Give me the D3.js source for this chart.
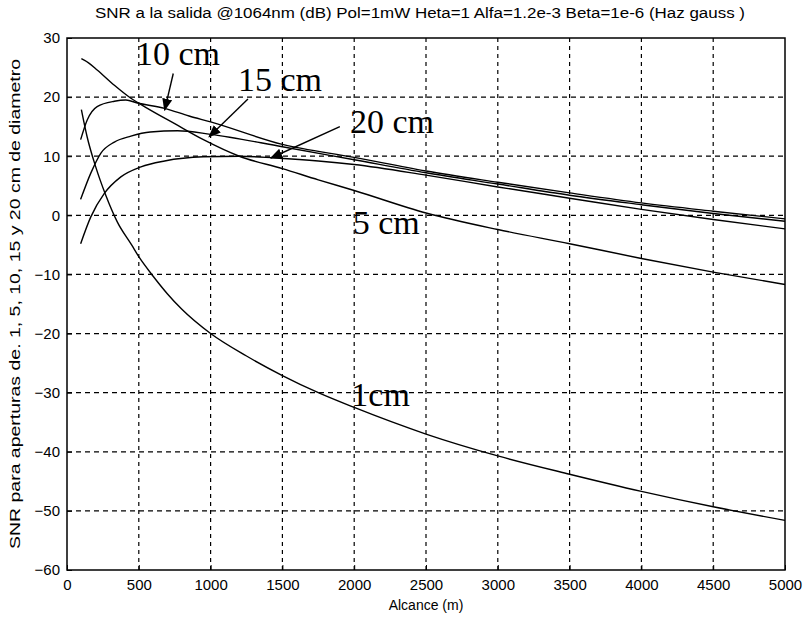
<!DOCTYPE html>
<html>
<head>
<meta charset="utf-8">
<script src="https://cdn.jsdelivr.net/npm/d3@7"></script>
<style>
  body { margin: 0; background: #fff; }
  svg { display: block; }
</style>
</head>
<body>
<div id="chart"></div>
<script>
// curves: [alcance (m), SNR (dB)]
var snr1cm = [[100,17.9],[140,13.3],[200,8.2],[270,3.4],[350,-1.1],[450,-5.0],[500,-7.0],[600,-10.3],[700,-13.3],[800,-15.9],[1000,-20.0],[1250,-23.8],[1500,-27.1],[1750,-30.0],[2000,-32.5],[2500,-37.0],[3000,-40.7],[3500,-43.8],[4000,-46.7],[4500,-49.3],[5000,-51.6]];
var snr5cm = [[100,26.5],[150,25.8],[210,24.6],[330,22.0],[445,19.8],[560,18.1],[750,15.5],[950,12.8],[1200,10.0],[1500,7.9],[1750,6.0],[2000,4.2],[2500,0.4],[3000,-2.4],[3500,-4.8],[4000,-7.3],[4500,-9.6],[5000,-11.7]];
var snr10cm = [[95,12.8],[140,16.1],[210,18.4],[330,19.3],[410,19.5],[490,19.0],[680,18.1],[850,16.8],[1000,15.8],[1500,12.0],[2000,9.8],[2500,7.5],[3000,5.6],[3500,3.8],[4000,2.1],[4500,0.7],[5000,-0.6]];
var snr15cm = [[95,2.7],[165,7.1],[235,10.5],[330,12.4],[445,13.4],[580,14.1],[770,14.3],[1000,13.7],[1500,11.6],[2000,9.4],[2500,7.2],[3000,5.3],[3500,3.4],[4000,1.8],[4500,0.3],[5000,-1.0]];
var snr20cm = [[95,-4.8],[165,-0.3],[260,3.7],[375,6.5],[515,8.2],[680,9.2],[950,9.9],[1200,10.0],[1450,9.7],[1750,9.2],[2000,8.6],[2500,6.8],[3000,4.8],[3500,2.9],[4000,1.0],[4500,-0.7],[5000,-2.3]];

var xTicks = [0,500,1000,1500,2000,2500,3000,3500,4000,4500,5000];
var yTicks = [-60,-50,-40,-30,-20,-10,0,10,20,30];

// hand-written labels: [text, x (m), y (dB)] and arrows [from x,y, to x,y]
var labels = [["10 cm", 480, 25.5], ["15 cm", 1190, 21.0], ["20 cm", 1970, 14.0], ["5 cm", 1990, -3.2], ["1cm", 1980, -32.3]];
var arrows = [[740, 24.0, 680, 17.8], [1260, 19.7, 990, 13.3], [1900, 15.0, 1420, 9.7]];

var width = 810, height = 620;
var margin = {top: 38, right: 25, bottom: 50, left: 67};

var svg = d3.select("#chart").append("svg")
    .attr("width", width)
    .attr("height", height)
    .style("font-family", "'Liberation Sans', Arial, sans-serif");

var x = d3.scaleLinear().domain([0, 5000]).range([margin.left, width - margin.right]);
var y = d3.scaleLinear().domain([-60, 30]).range([height - margin.bottom, margin.top]);

// dashed grid
svg.append("g").selectAll("line.gx")
    .data(xTicks.slice(1, -1))
    .enter().append("line")
    .attr("x1", function(d) { return x(d); })
    .attr("x2", function(d) { return x(d); })
    .attr("y1", y(-60)).attr("y2", y(30))
    .attr("stroke", "#000").attr("stroke-width", 1.2)
    .attr("stroke-dasharray", "4,4");

svg.append("g").selectAll("line.gy")
    .data(yTicks.slice(1, -1))
    .enter().append("line")
    .attr("x1", x(0)).attr("x2", x(5000))
    .attr("y1", function(d) { return y(d); })
    .attr("y2", function(d) { return y(d); })
    .attr("stroke", "#000").attr("stroke-width", 1.2)
    .attr("stroke-dasharray", "5,4");

// axes
var xAxis = svg.append("g")
    .attr("transform", "translate(0," + y(-60) + ")")
    .call(d3.axisBottom(x).tickValues(xTicks).tickSize(-5).tickPadding(9).tickFormat(d3.format("d")));
var yAxis = svg.append("g")
    .attr("transform", "translate(" + x(0) + ",0)")
    .call(d3.axisLeft(y).tickValues(yTicks).tickSize(-5).tickPadding(7).tickFormat(d3.format("d")));

[xAxis, yAxis].forEach(function(a) {
  a.select(".domain").remove();
  a.selectAll("text").style("font-size", "15px").style("font-family", "'Liberation Sans', Arial, sans-serif").attr("fill", "#000");
  a.selectAll("line").attr("stroke", "#000");
});

svg.append("rect")
    .attr("x", x(0)).attr("y", y(30))
    .attr("width", x(5000) - x(0)).attr("height", y(-60) - y(30))
    .attr("fill", "none").attr("stroke", "#000").attr("stroke-width", 1.5);

// curves
var line = d3.line()
    .x(function(d) { return x(d[0]); })
    .y(function(d) { return y(d[1]); })
    .curve(d3.curveMonotoneX);

[snr1cm, snr5cm, snr10cm, snr15cm, snr20cm].forEach(function(s) {
  svg.append("path")
      .datum(s)
      .attr("d", line)
      .attr("fill", "none")
      .attr("stroke", "#000")
      .attr("stroke-width", 1.4);
});

// arrows
svg.append("defs").append("marker")
    .attr("id", "head")
    .attr("viewBox", "0 0 10 10")
    .attr("refX", 9).attr("refY", 5)
    .attr("markerWidth", 9).attr("markerHeight", 9)
    .attr("orient", "auto")
  .append("path")
    .attr("d", "M0,1 L10,5 L0,9 z")
    .attr("fill", "#000");

svg.append("g").selectAll("line")
    .data(arrows)
    .enter().append("line")
    .attr("x1", function(d) { return x(d[0]); })
    .attr("y1", function(d) { return y(d[1]); })
    .attr("x2", function(d) { return x(d[2]); })
    .attr("y2", function(d) { return y(d[3]); })
    .attr("stroke", "#000").attr("stroke-width", 1.4)
    .attr("marker-end", "url(#head)");

svg.append("g").selectAll("text")
    .data(labels)
    .enter().append("text")
    .attr("x", function(d) { return x(d[1]); })
    .attr("y", function(d) { return y(d[2]); })
    .attr("font-family", "'Liberation Serif', 'Times New Roman', serif")
    .attr("font-size", 34)
    .attr("fill", "#000")
    .text(function(d) { return d[0]; });

// title and axis labels
svg.append("text")
    .attr("x", 420).attr("y", 18)
    .attr("text-anchor", "middle")
    .attr("font-size", 14)
    .attr("textLength", 650)
    .attr("lengthAdjust", "spacingAndGlyphs")
    .text("SNR a la salida @1064nm (dB) Pol=1mW  Heta=1 Alfa=1.2e-3 Beta=1e-6  (Haz gauss )");

svg.append("text")
    .attr("x", (x(0) + x(5000)) / 2).attr("y", 610)
    .attr("text-anchor", "middle")
    .attr("font-size", 14)
    .text("Alcance (m)");

svg.append("text")
    .attr("transform", "translate(20," + ((y(30) + y(-60)) / 2) + ") rotate(-90)")
    .attr("text-anchor", "middle")
    .attr("font-size", 14)
    .attr("textLength", 490)
    .attr("lengthAdjust", "spacingAndGlyphs")
    .text("SNR para aperturas de. 1, 5, 10, 15 y 20 cm de diametro");
</script>
</body>
</html>
